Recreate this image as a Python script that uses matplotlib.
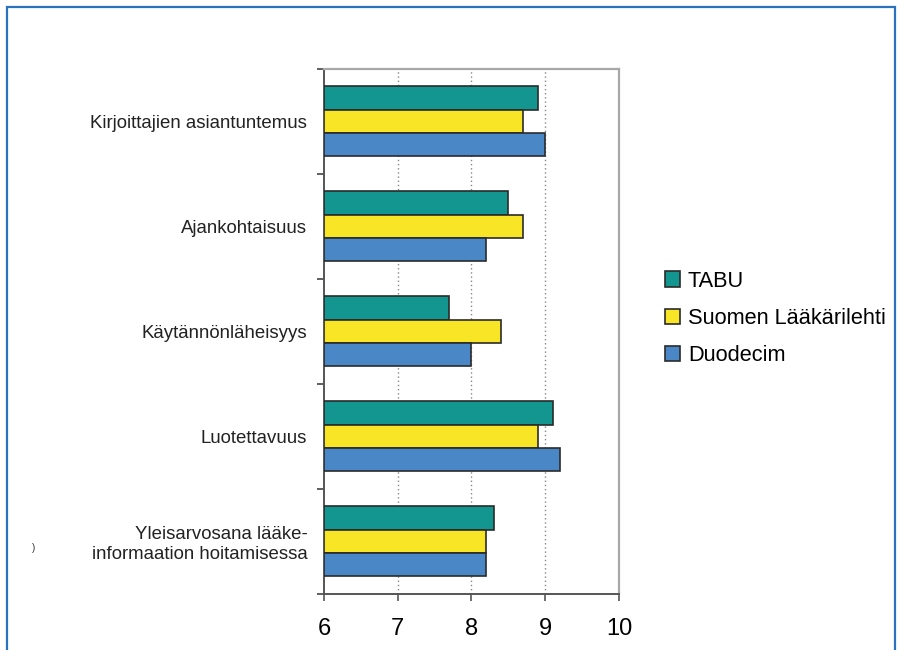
import matplotlib
matplotlib.use("Agg")
import matplotlib.pyplot as plt
from matplotlib.patches import Rectangle, Patch
import numpy as np

plt.rcParams['font.family'] = ['Liberation Sans', 'DejaVu Sans']

# Data
categories = ['Kirjoittajien asiantuntemus', 'Ajankohtaisuus', 'Käytännönläheisyys',
              'Luotettavuus', 'Yleisarvosana lääke-\ninformaation hoitamisessa']
series = ['TABU', 'Suomen Lääkärilehti', 'Duodecim']
tabu = [8.9, 8.5, 7.7, 9.1, 8.3]
laakarilehti = [8.7, 8.7, 8.4, 8.9, 8.2]
duodecim = [9.0, 8.2, 8.0, 9.2, 8.2]
x_ticks = [6, 7, 8, 9, 10]

colors = ['#13968f', '#f8e526', '#4a87c6']

fig = plt.figure(figsize=(8.98, 6.5), dpi=100)
ax = fig.add_axes([0.3608, 0.0862, 0.3285, 0.8077])

# blue frame around the whole figure
fig.patches.append(Rectangle((7 / 898, -0.05), 888 / 898, 1.05 - 7 / 650,
                             transform=fig.transFigure, fill=False,
                             edgecolor='#2a72bd', linewidth=1.6))

h = 1 / 4.5
y = np.arange(len(categories))
for k, vals in enumerate([tabu, laakarilehti, duodecim]):
    vals = np.array(vals)
    ax.barh(y + (k - 1) * h, vals - 6, left=6, height=h, color=colors[k],
            edgecolor='#2b2b2b', linewidth=1.2, zorder=3)

ax.set_xlim(6, 10)
ax.set_ylim(len(categories) - 0.5, -0.5)
ax.set_xticks(x_ticks)
ax.set_xticklabels([str(t) for t in x_ticks], fontsize=17)
ax.tick_params(axis='x', direction='out', length=5, width=1.2, color='#555555', pad=12)

ax.set_yticks(y)
ax.set_yticklabels(categories, fontsize=13.4, color='#222222', linespacing=1.2)
ax.tick_params(axis='y', length=0, pad=12)
ax.set_yticks(np.arange(len(categories) + 1) - 0.5, minor=True)
ax.tick_params(axis='y', which='minor', direction='out', length=5, width=1.2, color='#444444')

for xv in x_ticks[1:-1]:
    ax.axvline(xv, color='#888888', linestyle=(0, (1, 2)), linewidth=1, zorder=1)

for s in ['top', 'right']:
    ax.spines[s].set_color('#a8a8a8')
    ax.spines[s].set_linewidth(1.6)
for s in ['left', 'bottom']:
    ax.spines[s].set_color('#555555')
    ax.spines[s].set_linewidth(1.4)

handles = [Patch(facecolor=colors[k], edgecolor='#2b2b2b', linewidth=1.2, label=series[k])
           for k in range(3)]
fig.legend(handles=handles, loc='center left', bbox_to_anchor=(0.7405, 0.51),
           frameon=False, fontsize=15.7, handlelength=0.7, handleheight=0.7,
           handletextpad=0.35, labelspacing=0.75, borderaxespad=0, borderpad=0)

fig.text(0.036, 0.152, ')', fontsize=7, color='#333333')

fig.savefig('out.png', dpi=100)
